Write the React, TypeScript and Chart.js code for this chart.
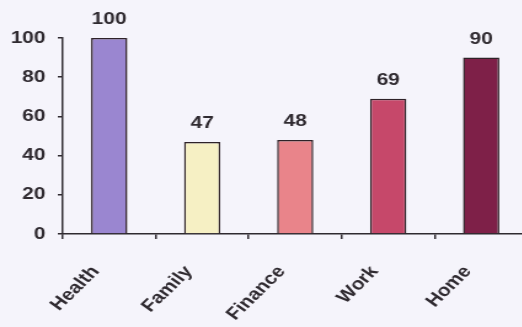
import React, { useEffect, useRef } from "react";
import { Chart, registerables } from "chart.js";

Chart.register(...registerables);

const categories = ["Health", "Family", "Finance", "Work", "Home"];
const values = [100, 47, 48, 69, 90];
const barColors = ["#9a86d0", "#f6f0c4", "#e9848a", "#c6486a", "#7e2048"];
const yTicks = [0, 20, 40, 60, 80, 100];

const SX = 1.23;
const TEXT = "#2f2a30";
const FONT = "'Liberation Sans', Arial, sans-serif";

const valueLabels = {
  id: "valueLabels",
  afterDatasetsDraw(chart: any) {
    const ctx = chart.ctx;
    const meta = chart.getDatasetMeta(0);
    ctx.save();
    ctx.fillStyle = TEXT;
    ctx.font = `bold 17px ${FONT}`;
    ctx.textAlign = "center";
    ctx.textBaseline = "alphabetic";
    meta.data.forEach((el: any, i: number) => {
      ctx.fillText(String(values[i]), el.x, el.y - 14);
    });
    ctx.restore();
  },
};

export default function App() {
  const ref = useRef<HTMLCanvasElement>(null);
  useEffect(() => {
    if (!ref.current) return;
    const chart = new Chart(ref.current, {
      type: "bar",
      data: {
        labels: categories,
        datasets: [
          {
            data: values,
            backgroundColor: barColors,
            borderColor: "#2e2228",
            borderWidth: 1.5,
            categoryPercentage: 1,
            barPercentage: 0.39,
          },
        ],
      },
      options: {
        responsive: false,
        animation: false,
        layout: { padding: { top: 38, right: 3, left: 0, bottom: 0 } },
        plugins: { legend: { display: false }, tooltip: { enabled: false } },
        scales: {
          x: {
            grid: {
              display: true,
              drawOnChartArea: false,
              drawTicks: true,
              tickLength: 5,
              color: TEXT,
              lineWidth: 1.5,
            },
            border: { display: true, color: TEXT, width: 1.5 },
            ticks: {
              color: TEXT,
              font: { family: FONT, size: 17, weight: "bold" },
              maxRotation: 50,
              minRotation: 50,
              padding: 23,
              labelOffset: -11,
            },
            afterFit(scale: any) {
              scale.height = 93;
            },
          },
          y: {
            min: 0,
            max: 100,
            afterBuildTicks(scale: any) {
              scale.ticks = yTicks.map((v) => ({ value: v }));
            },
            grid: {
              display: true,
              drawOnChartArea: false,
              drawTicks: true,
              tickLength: 4,
              color: TEXT,
              lineWidth: 1.5,
            },
            border: { display: true, color: TEXT, width: 1.5 },
            ticks: {
              color: TEXT,
              font: { family: FONT, size: 17, weight: "bold" },
              padding: 10,
            },
            afterFit(scale: any) {
              scale.width = 51;
            },
          },
        },
      },
      plugins: [valueLabels],
    });
    return () => chart.destroy();
  }, []);
  return (
    <div
      style={{
        position: "fixed",
        left: 0,
        top: 0,
        width: 522,
        height: 327,
        overflow: "hidden",
        background: "#f5f4fb",
      }}
    >
      <canvas
        ref={ref}
        width={432}
        height={327}
        style={{
          display: "block",
          transform: `scaleX(${SX})`,
          transformOrigin: "0 0",
        }}
      />
    </div>
  );
}
